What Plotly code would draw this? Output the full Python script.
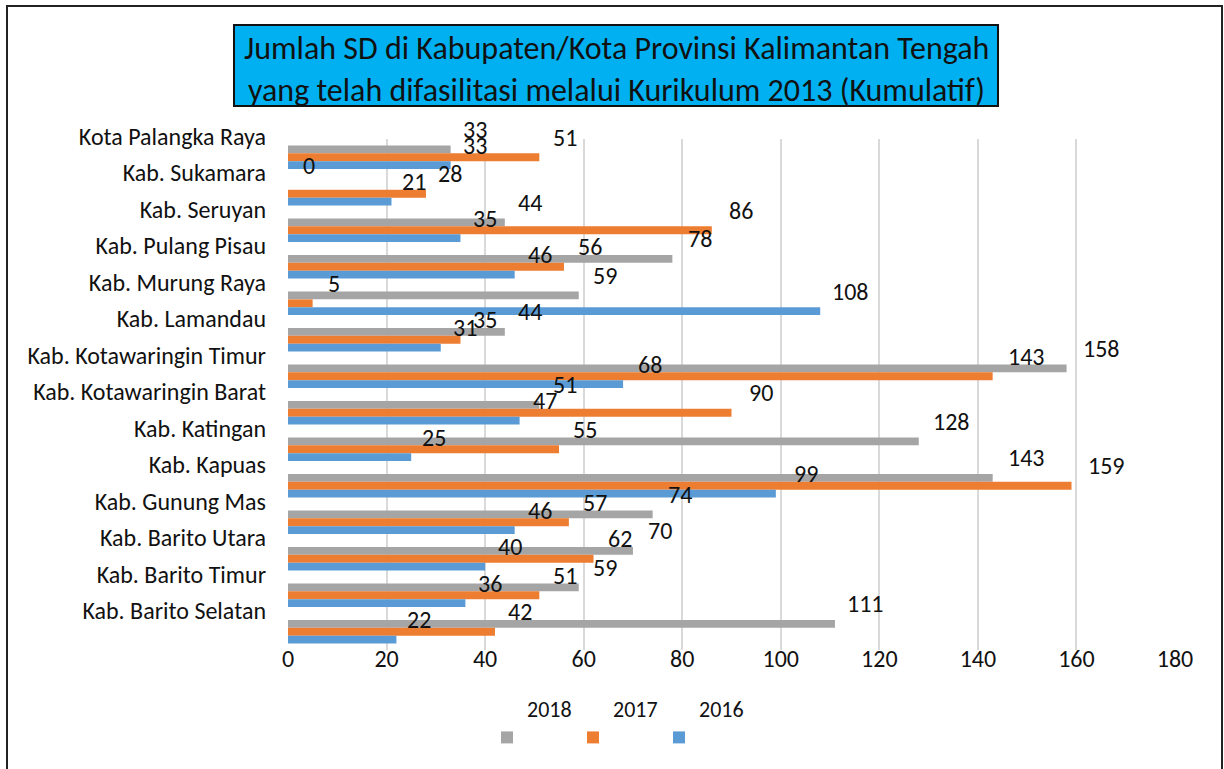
import plotly.graph_objects as go

# ---- data (top to bottom as shown) ----
categories = ["Kota Palangka Raya", "Kab. Sukamara", "Kab. Seruyan", "Kab. Pulang Pisau",
              "Kab. Murung Raya", "Kab. Lamandau", "Kab. Kotawaringin Timur",
              "Kab. Kotawaringin Barat", "Kab. Katingan", "Kab. Kapuas", "Kab. Gunung Mas",
              "Kab. Barito Utara", "Kab. Barito Timur", "Kab. Barito Selatan"]
v2018 = [33, 0, 44, 78, 59, 44, 158, 51, 128, 143, 74, 70, 59, 111]
v2017 = [51, 28, 86, 56, 5, 35, 143, 90, 55, 159, 57, 62, 51, 42]
v2016 = [33, 21, 35, 46, 108, 31, 68, 47, 25, 99, 46, 40, 36, 22]
series_names = ["2018", "2017", "2016"]
series_values = [v2018, v2017, v2016]
series_colors = ["#A5A5A5", "#ED7D31", "#5B9BD5"]
x_ticks = [0, 20, 40, 60, 80, 100, 120, 140, 160, 180]

W, H = 1224, 769
ML, MR, MT, MB = 288, 49, 139, 119
PW, PH = W - ML - MR, H - MT - MB
FONT = "Carlito, Calibri, Lato, sans-serif"
TXT = "#111111"
FS = 24


def px_x(p):
    return (p - ML) / PW


def px_y(p):
    return (H - MB - p) / PH


fig = go.Figure()
for name, vals, col in zip(series_names, series_values, series_colors):
    fig.add_trace(go.Bar(
        y=categories, x=vals, orientation="h", name=name + "<br> ",
        marker=dict(color=col, line=dict(width=0)),
    ))

# data labels (drawn offset up/right like the original)
bar_px = PH / len(categories) * 0.64 / 3
offs = [bar_px, 0, -bar_px]
for vals, off in zip(series_values, offs):
    for c, v in zip(categories, vals):
        fig.add_annotation(x=v, y=c, xref="x", yref="y", text=str(v), showarrow=False,
                           xanchor="center", yanchor="middle",
                           xshift=21 + 0.09 * v, yshift=20 + off,
                           font=dict(family=FONT, size=FS, color=TXT))

# title box
fig.add_shape(type="rect", xref="paper", yref="paper",
              x0=px_x(234), x1=px_x(998), y0=px_y(106), y1=px_y(25),
              fillcolor="#00B0F0", line=dict(color="#111111", width=2), layer="above")
fig.add_annotation(xref="paper", yref="paper", x=px_x(616), y=px_y(49),
                   text="Jumlah SD di Kabupaten/Kota Provinsi Kalimantan Tengah",
                   showarrow=False, xanchor="center", yanchor="middle",
                   font=dict(family=FONT, size=32, color=TXT))
fig.add_annotation(xref="paper", yref="paper", x=px_x(616), y=px_y(90),
                   text="yang telah difasilitasi melalui Kurikulum 2013 (Kumulatif)",
                   showarrow=False, xanchor="center", yanchor="middle",
                   font=dict(family=FONT, size=32, color=TXT))
# outer chart border
fig.add_shape(type="rect", xref="paper", yref="paper",
              x0=px_x(7), x1=px_x(1222), y0=px_y(790), y1=px_y(6),
              fillcolor="rgba(0,0,0,0)", line=dict(color="#222222", width=2))

fig.update_layout(
    width=W, height=H,
    margin=dict(l=ML, r=MR, t=MT, b=MB, autoexpand=False),
    paper_bgcolor="white", plot_bgcolor="white",
    barmode="group", bargap=0.36, bargroupgap=0,
    font=dict(family=FONT, size=FS, color=TXT),
    showlegend=True,
    legend=dict(orientation="h", x=px_x(487), xanchor="left", y=px_y(688), yanchor="top",
                valign="bottom", font=dict(family=FONT, size=22, color=TXT),
                entrywidth=41, entrywidthmode="pixels", traceorder="normal",
                bgcolor="rgba(0,0,0,0)"),
    xaxis=dict(range=[0, 180], autorange=False, tickvals=x_ticks,
               ticktext=[str(t) for t in x_ticks],
               showgrid=True, gridcolor="#D9D9D9", gridwidth=1.5, zeroline=False,
               showline=False, ticks="", ticklabelstandoff=-8,
               tickfont=dict(family=FONT, size=FS, color=TXT)),
    yaxis=dict(range=[len(categories) - 0.5, -0.5], autorange=False, type="category",
               showgrid=False, showline=False,
               ticks="", ticklabelshift=21, ticklabelstandoff=21,
               tickfont=dict(family=FONT, size=FS, color=TXT)),
)

fig.write_html("out.html", config={"displayModeBar": False},
               post_script="document.body.style.margin='0';")
